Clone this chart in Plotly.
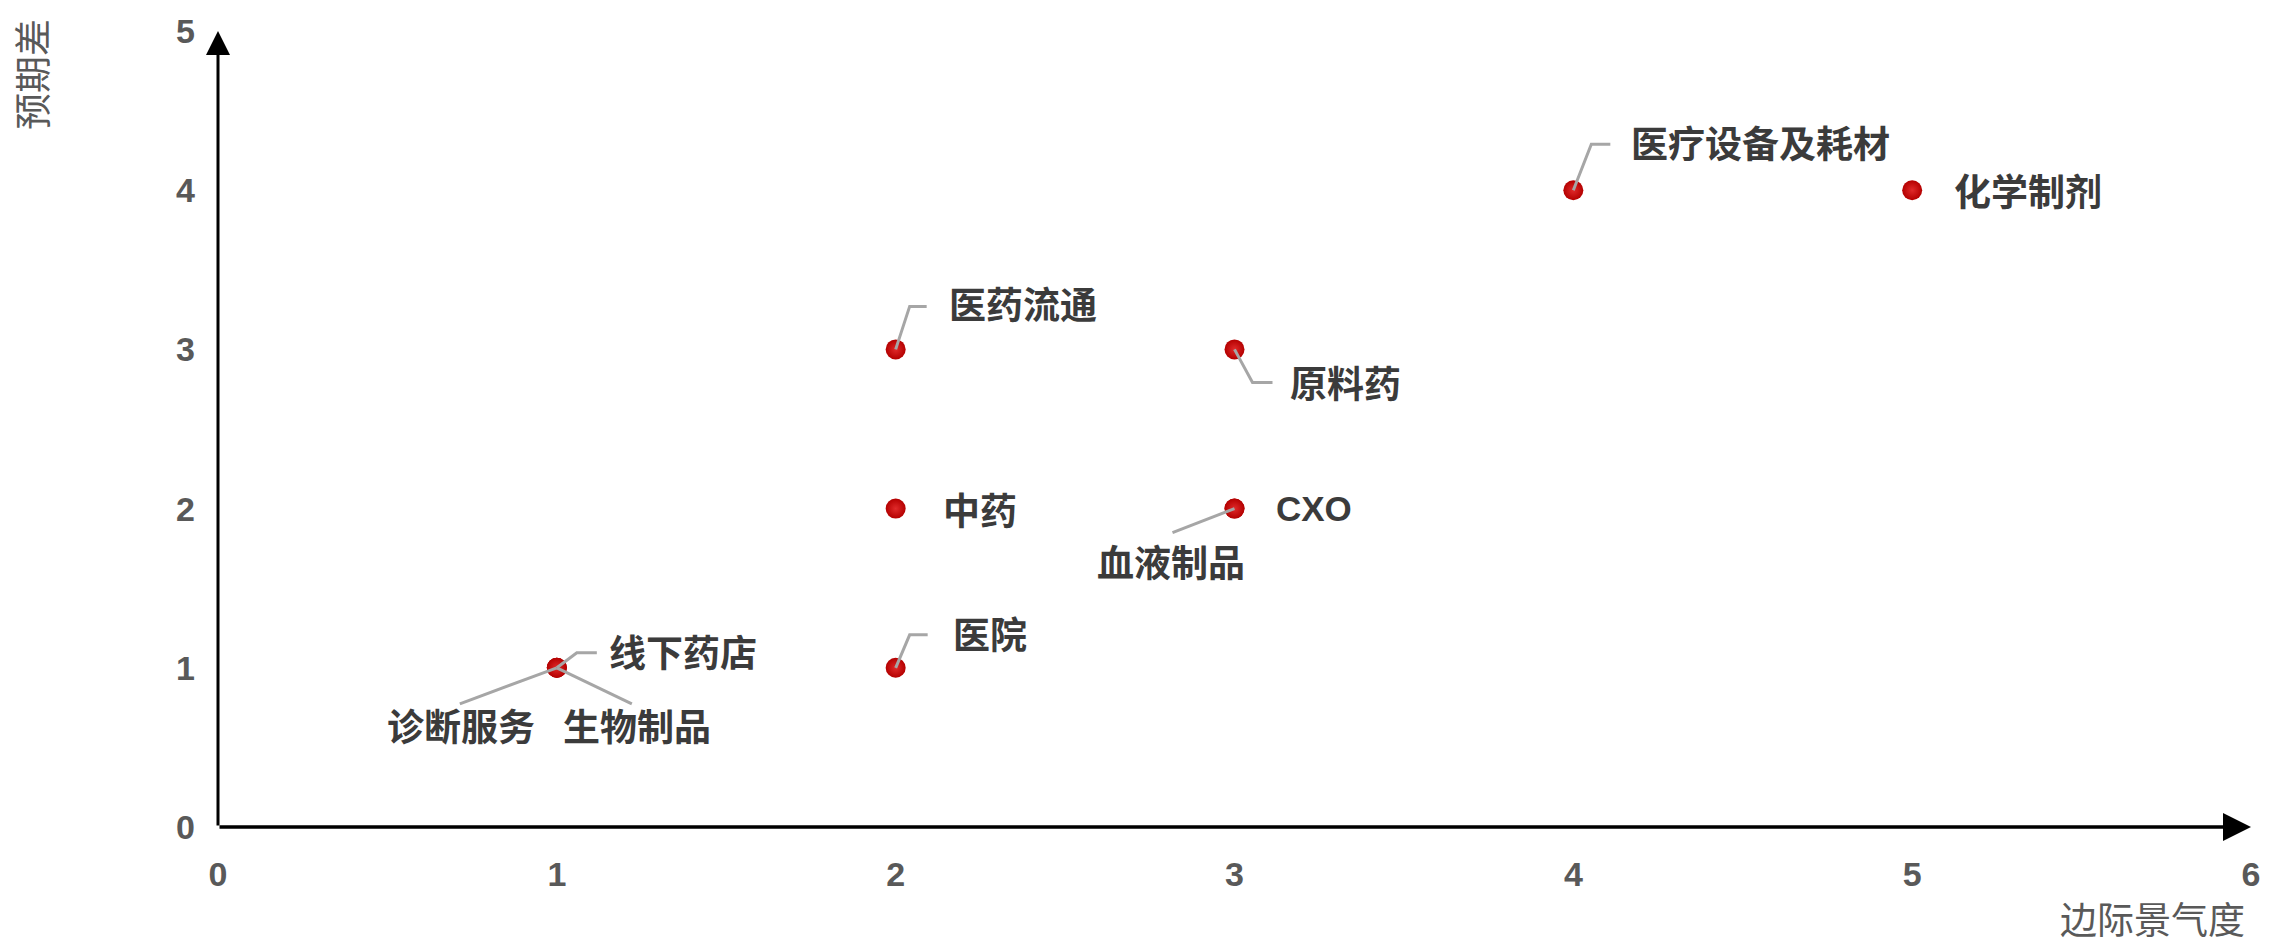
import plotly.graph_objects as go

# ---------------- data ----------------
labels = ["线下药店", "诊断服务", "生物制品", "医院", "中药", "医药流通",
          "原料药", "CXO", "血液制品", "医疗设备及耗材", "化学制剂"]
x_vals = [1, 1, 1, 2, 2, 2, 3, 3, 3, 4, 5]   # 边际景气度
y_vals = [1, 1, 1, 1, 2, 3, 3, 2, 2, 4, 4]   # 预期差
x_ticks = [0, 1, 2, 3, 4, 5, 6]
y_ticks = [0, 1, 2, 3, 4, 5]
x_title = "边际景气度"
y_title = "预期差"

# ---------------- label placement (pixel offsets, y up) ----------------
# name: (text dx, text dy, xanchor, leader path points or None)
label_layout = {
    "线下药店": (50, 17, "left", [(0, 0), (20, 15), (40, 15)]),
    "诊断服务": (-96, -57, "center", [(0, 0), (-97, -36)]),
    "生物制品": (80, -57, "center", [(0, 0), (75, -36)]),
    "医院": (55, 35, "left", [(0, 0), (14, 33), (32, 33)]),
    "中药": (45, 0, "left", None),
    "医药流通": (51, 46, "left", [(0, 0), (14, 43), (31, 43)]),
    "原料药": (53, -33, "left", [(0, 0), (18, -33), (38, -33)]),
    "CXO": (39, 0, "left", None),
    "血液制品": (-64, -52, "center", [(0, 0), (-62, -24)]),
    "医疗设备及耗材": (56, 48, "left", [(0, 0), (18, 46), (37, 46)]),
    "化学制剂": (40, 0, "left", None),
}

CJK = "Noto Sans CJK SC"
LATIN = "Liberation Sans, Arial"
TEXT_COLOR = "#3b3b3b"
AXIS_TEXT = "#595959"

fig = go.Figure()
fig.add_trace(go.Scatter(
    x=x_vals, y=y_vals, mode="markers",
    marker=dict(size=20, color="#b40000",
                gradient=dict(type="radial", color="#e02a2a"),
                line=dict(width=0)),
    hoverinfo="text", text=labels, showlegend=False,
))

annotations = []
shapes = []
for name, xv, yv in zip(labels, x_vals, y_vals):
    dx, dy, anchor, path = label_layout[name]
    is_latin = name.isascii()
    annotations.append(dict(
        x=xv, y=yv, xref="x", yref="y", text=name, showarrow=False,
        xanchor=anchor, yanchor="middle", xshift=dx, yshift=dy,
        font=dict(family=LATIN if is_latin else CJK, size=35 if is_latin else 37,
                  color=TEXT_COLOR, weight="bold"),
    ))
    if path:
        d = "M" + " L".join(f"{px},{py}" for px, py in path)
        shapes.append(dict(
            type="path", xref="x", yref="y", xsizemode="pixel", ysizemode="pixel",
            xanchor=xv, yanchor=yv, path=d,
            line=dict(color="#a6a6a6", width=3), layer="above",
        ))

# axis arrows
annotations.append(dict(x=x_ticks[-1], y=0, ax=0, ay=0, xref="x", yref="y",
                        axref="x", ayref="y", text="", showarrow=True,
                        arrowhead=2, arrowsize=1.6, arrowwidth=3.5, arrowcolor="#000000"))
annotations.append(dict(x=0, y=y_ticks[-1], ax=0, ay=0, xref="x", yref="y",
                        axref="x", ayref="y", text="", showarrow=True,
                        arrowhead=2, arrowsize=1.6, arrowwidth=3, arrowcolor="#000000"))

# axis titles
annotations.append(dict(x=0, y=1, xref="paper", yref="paper", text=y_title,
                        showarrow=False, textangle=-90, xanchor="center", yanchor="middle",
                        xshift=-187, yshift=-44,
                        font=dict(family=CJK, size=37, color=AXIS_TEXT)))
annotations.append(dict(x=1, y=0, xref="paper", yref="paper", text=x_title,
                        showarrow=False, xanchor="right", yanchor="middle",
                        xshift=-4, yshift=-91,
                        font=dict(family=CJK, size=37, color=AXIS_TEXT)))

fig.update_layout(
    width=2272, height=948,
    margin=dict(l=218, r=16, t=28, b=121),
    paper_bgcolor="white", plot_bgcolor="white",
    xaxis=dict(range=[0, 6], tickvals=x_ticks, showgrid=False, zeroline=False,
               showline=False, ticks="", ticklabelstandoff=24,
               tickfont=dict(family=LATIN, size=34, color=AXIS_TEXT, weight="bold")),
    yaxis=dict(range=[0, 5], tickvals=y_ticks, showgrid=False, zeroline=False,
               showline=False, ticks="", ticklabelstandoff=22,
               tickfont=dict(family=LATIN, size=34, color=AXIS_TEXT, weight="bold")),
    annotations=annotations, shapes=shapes,
)

fig.write_html("out.html")
